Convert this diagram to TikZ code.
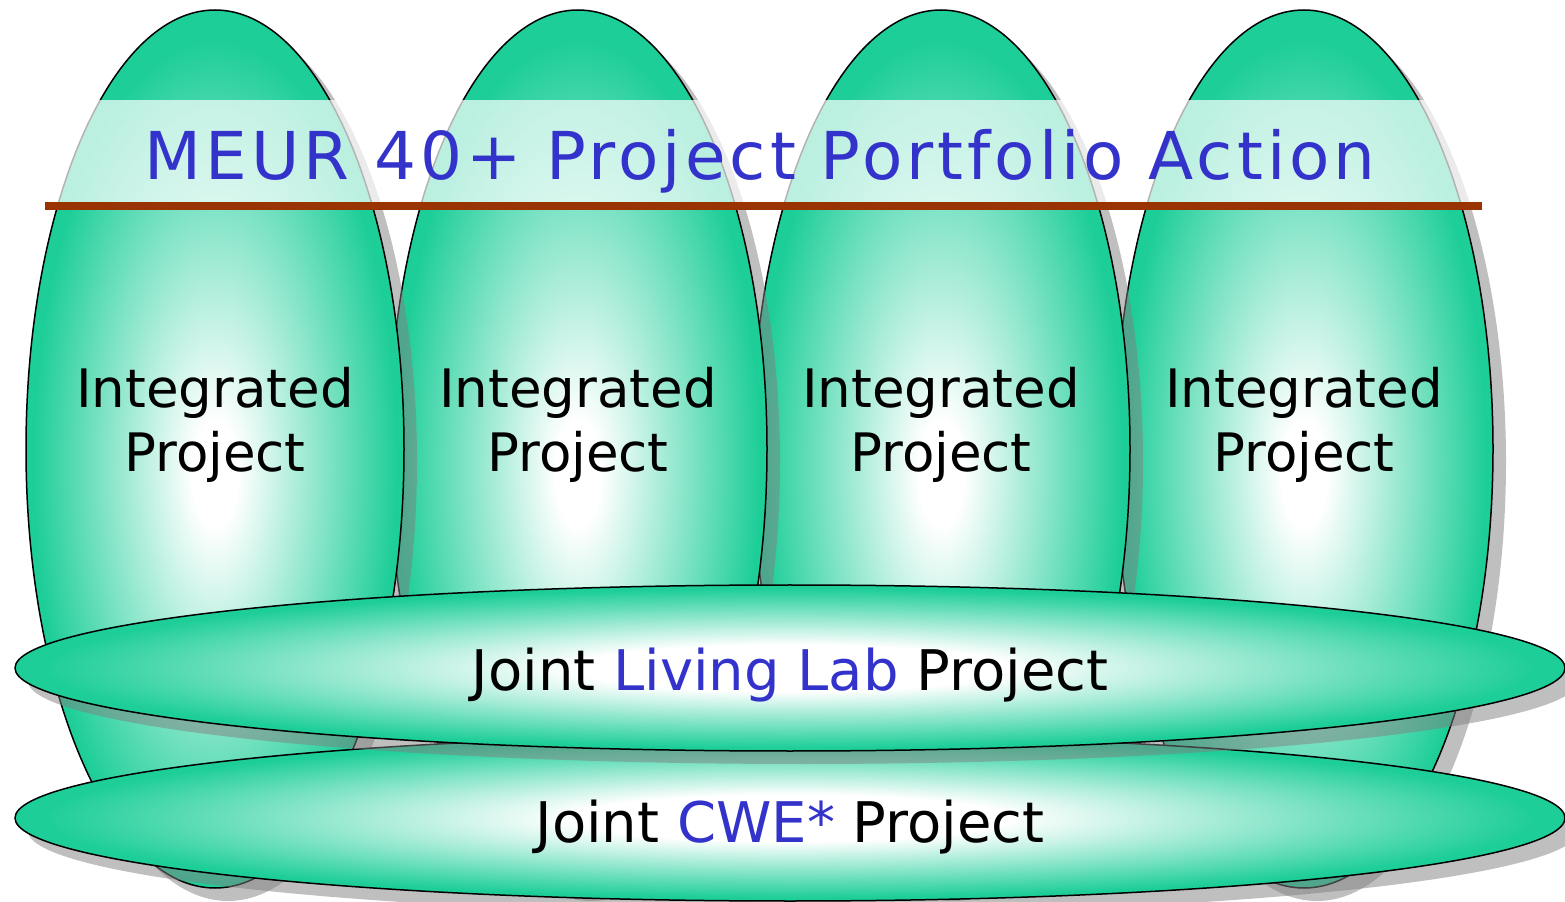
\documentclass[tikz,border=0pt]{standalone}
\usepackage{fontspec}
\setmainfont{DejaVu Sans}
\newfontfamily\titlefont[LetterSpace=6]{DejaVu Sans}
\definecolor{meurgreen}{RGB}{30,206,153}
\definecolor{meurblue}{RGB}{51,51,204}
\definecolor{meurbrown}{RGB}{153,51,0}
% white heart, green rim (the rim sits at 25bp)
\pgfdeclareradialshading{eggshade}{\pgfpoint{0bp}{-1.5bp}}{color(0bp)=(white); color(3bp)=(white); color(24bp)=(meurgreen); color(50bp)=(meurgreen)}
\pgfdeclareradialshading{discshade}{\pgfpoint{0bp}{0bp}}{color(0bp)=(white); color(7bp)=(white); color(24bp)=(meurgreen); color(50bp)=(meurgreen)}
\begin{document}
\begin{tikzpicture}[x=0.5pt,y=0.5pt,
	rim/.style={draw=black,line width=0.75pt},
	shadow/.style={fill=gray,opacity=.5},
	label/.style={font=\fontsize{26.5}{32}\selectfont,align=center}]
	\useasboundingbox (0,0) rectangle (1565,901);
	% integrated projects, right one first
	\foreach \x in {1304,941,578,215}{
		\fill[shadow] (\x+13,439) ellipse (189 and 439);
		\draw[rim,shading=eggshade] (\x,452) ellipse (189 and 439);}
	\fill[white,opacity=.7] (0,699) rectangle (1565,801);
	\draw[meurbrown,line width=4pt] (45,695)--(1482,695);
	\node[font=\titlefont\fontsize{33}{40}\selectfont,text=meurblue,anchor=base] (portfolio) at (760,721) {MEUR 40+ Project Portfolio Action};
	\foreach \x [count=\i] in {215,578,941,1304}
		\node[label] (ip\i) at (\x,476) {Integrated\\Project};
	% joint projects
	\fill[shadow] (803,70) ellipse (775 and 83);
	\draw[rim,shading=discshade] (790,83) ellipse (775 and 83);
	\fill[shadow] (803,220) ellipse (775 and 83);
	\draw[rim,shading=discshade] (790,233) ellipse (775 and 83);
	\node[label,font=\fontsize{28}{32}\selectfont,anchor=base] (livinglab) at (790,211) {Joint \textcolor{meurblue}{Living Lab} Project};
	\node[label,font=\fontsize{28}{32}\selectfont,anchor=base] (cwe) at (790,59) {Joint \textcolor{meurblue}{CWE*} Project};
\end{tikzpicture}
\end{document}
